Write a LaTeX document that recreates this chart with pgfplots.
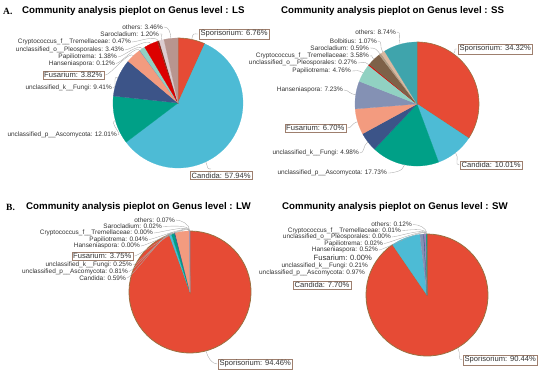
\documentclass[border=0pt]{standalone}
\usepackage{pgfplots}
\pgfplotsset{compat=1.18}
\usepackage{fontspec}
\setmainfont{Liberation Sans}
\newfontfamily\serifb{Liberation Serif}

\definecolor{cSpo}{HTML}{E64B35}
\definecolor{cCan}{HTML}{4DBBD5}
\definecolor{cAsc}{HTML}{00A087}
\definecolor{cFun}{HTML}{3C5488}
\definecolor{cFus}{HTML}{F39B7F}
\definecolor{cHan}{HTML}{8491B4}
\definecolor{cPap}{HTML}{91D1C2}
\definecolor{cPle}{HTML}{DC0000}
\definecolor{cCry}{HTML}{7E6148}
\definecolor{cSar}{HTML}{B09C85}
\definecolor{cBol}{HTML}{D9B8A0}
\definecolor{cOthLS}{HTML}{B8958F}
\definecolor{cSarLS}{HTML}{DCCCD0}
\definecolor{cCryLS}{HTML}{8A2A1A}
\definecolor{cOthSS}{HTML}{3FA4AC}
\definecolor{cOthW}{HTML}{9E7FC0}
\definecolor{redline}{HTML}{9A7040}
\definecolor{boxc}{HTML}{9E7F6E}
\definecolor{textc}{HTML}{333333}
\definecolor{leadc}{HTML}{A8A8A8}

\newcommand{\lbl}{\fontsize{6.45}{7}\selectfont}
\newcommand{\blbl}{\fontsize{7.6}{8.4}\selectfont}
\newcommand{\ttl}{\fontsize{9.7}{11}\selectfont\bfseries}

% #1 options, #2 cx, #3 cy, #4 r, #5 start %, #6 end %, #7 colour
\newcommand{\slice}[7][]{%
  \addplot[fill=#7, draw=#7, line width=0.2pt, #1, domain=#5:#6, samples=60, variable=\t, forget plot]
    ({#2+#4*sin(3.6*\t)}, {#3-#4*cos(3.6*\t)}) -- (axis cs:#2,#3) -- cycle;}
% leader from left label end: x y cx cy r mid%
\newcommand{\leadL}[6]{%
  \draw[leadc, line width=0.35pt] (axis cs:{#1+0.8},#2) .. controls (axis cs:{#1+6},#2) and (axis cs:{#3+(#5+7)*sin(3.6*#6)},{#4-(#5+7)*cos(3.6*#6)}) .. (axis cs:{#3+#5*sin(3.6*#6)},{#4-#5*cos(3.6*#6)});}
\newcommand{\leadR}[6]{%
  \draw[leadc, line width=0.35pt] (axis cs:{#1-0.8},#2) .. controls (axis cs:{#1-6},#2) and (axis cs:{#3+(#5+7)*sin(3.6*#6)},{#4-(#5+7)*cos(3.6*#6)}) .. (axis cs:{#3+#5*sin(3.6*#6)},{#4-#5*cos(3.6*#6)});}

\tikzset{
  sl/.style={anchor=east, font=\lbl, text=textc, inner sep=0pt},
  bx/.style={draw=boxc, line width=0.5pt, inner sep=1.4pt, fill=white, font=\blbl, text=textc},
  tt/.style={anchor=west, font=\ttl, text=black, inner sep=0pt},
  ab/.style={anchor=west, font={\fontsize{9.5}{10}\serifb\bfseries}, text=black, inner sep=0pt}
}

\begin{document}
\begin{tikzpicture}
\begin{axis}[width=550pt, height=373pt, scale only axis,
  xmin=0, xmax=550, ymin=0, ymax=373, y dir=reverse,
  hide axis, clip=false]
\path (axis cs:0,0) rectangle (axis cs:550,373);

% ---------------- LS ----------------
\slice[draw=redline, line width=0.6pt]{178}{103}{65}{0}{6.76}{cSpo}
\slice{178}{103}{65}{6.76}{64.70}{cCan}
\slice{178}{103}{65}{64.70}{76.71}{cAsc}
\slice{178}{103}{65}{76.71}{86.12}{cFun}
\slice{178}{103}{65}{86.12}{89.94}{cFus}
\slice{178}{103}{65}{89.94}{90.06}{cHan}
\slice{178}{103}{65}{90.06}{91.44}{cPap}
\slice{178}{103}{65}{91.44}{94.87}{cPle}
\slice{178}{103}{65}{94.87}{95.34}{cCryLS}
\slice{178}{103}{65}{95.34}{96.54}{cSarLS}
\slice{178}{103}{65}{96.54}{100}{cOthLS}

\node[ab] at (axis cs:3,11) {A.};
\node[tt] at (axis cs:22,11) {Community analysis pieplot on Genus level : LS};
\node[sl] at (axis cs:163,27) {others: 3.46\%};
\node[sl] at (axis cs:159,34) {Sarocladium: 1.20\%};
\node[sl] at (axis cs:131,42) {Cryptococcus\_f\_\_Tremellaceae: 0.47\%};
\node[sl] at (axis cs:124,50) {unclassified\_o\_\_Pleosporales: 3.43\%};
\node[sl] at (axis cs:117,57) {Papiliotrema: 1.38\%};
\node[sl] at (axis cs:115,63.5) {Hanseniaspora: 0.12\%};
\node[sl] at (axis cs:112,88) {unclassified\_k\_\_Fungi: 9.41\%};
\node[sl] at (axis cs:117,135) {unclassified\_p\_\_Ascomycota: 12.01\%};
\node[bx, anchor=east] at (axis cs:104,75) {Fusarium: 3.82\%};
\node[bx, anchor=west] at (axis cs:199,34) {Sporisorium: 6.76\%};
\node[bx, anchor=west] at (axis cs:190,175.5) {Candida: 57.94\%};
\leadL{163}{27}{178}{103}{65}{98.27}
\leadL{159}{34}{178}{103}{65}{95.94}
\leadL{131}{42}{178}{103}{65}{95.1}
\leadL{124}{50}{178}{103}{65}{93.16}
\leadL{117}{57}{178}{103}{65}{90.75}
\leadL{115}{63.5}{178}{103}{65}{90.0}
\leadL{104.5}{75}{178}{103}{65}{88.03}
\leadL{112}{88}{178}{103}{65}{81.4}
\leadL{117}{135}{178}{103}{65}{70.7}
\leadR{199}{34}{178}{103}{65}{3.38}
\leadR{212}{169}{178}{103}{65}{43}

% ---------------- SS ----------------
\slice[draw=redline, line width=0.6pt]{417}{104}{62}{0}{34.32}{cSpo}
\slice{417}{104}{62}{34.32}{44.33}{cCan}
\slice{417}{104}{62}{44.33}{62.06}{cAsc}
\slice{417}{104}{62}{62.06}{67.04}{cFun}
\slice{417}{104}{62}{67.04}{73.74}{cFus}
\slice{417}{104}{62}{73.74}{80.97}{cHan}
\slice{417}{104}{62}{80.97}{85.73}{cPap}
\slice{417}{104}{62}{85.73}{86.00}{cPle}
\slice{417}{104}{62}{86.00}{89.58}{cCry}
\slice{417}{104}{62}{89.58}{90.17}{cSar}
\slice{417}{104}{62}{90.17}{91.24}{cBol}
\slice{417}{104}{62}{91.24}{100}{cOthSS}

\node[tt] at (axis cs:281,11) {Community analysis pieplot on Genus level : SS};
\node[sl] at (axis cs:396,32) {others: 8.74\%};
\node[sl] at (axis cs:377,41) {Bolbitius: 1.07\%};
\node[sl] at (axis cs:369,48) {Sarocladium: 0.59\%};
\node[sl] at (axis cs:369,56) {Cryptococcus\_f\_\_Tremellaceae: 3.58\%};
\node[sl] at (axis cs:357,63) {unclassified\_o\_\_Pleosporales: 0.27\%};
\node[sl] at (axis cs:351,71) {Papiliotrema: 4.76\%};
\node[sl] at (axis cs:343,90) {Hanseniaspora: 7.23\%};
\node[sl] at (axis cs:359,153) {unclassified\_k\_\_Fungi: 4.98\%};
\node[sl] at (axis cs:387,173) {unclassified\_p\_\_Ascomycota: 17.73\%};
\node[bx, anchor=east] at (axis cs:346,128) {Fusarium: 6.70\%};
\node[bx, anchor=west] at (axis cs:458,49) {Sporisorium: 34.32\%};
\node[bx, anchor=west] at (axis cs:460,165) {Candida: 10.01\%};
\leadL{396}{32}{417}{104}{62}{95.6}
\leadL{377}{41}{417}{104}{62}{90.71}
\leadL{369}{48}{417}{104}{62}{89.88}
\leadL{369}{56}{417}{104}{62}{87.79}
\leadL{357}{63}{417}{104}{62}{85.87}
\leadL{351}{71}{417}{104}{62}{83.35}
\leadL{343}{90}{417}{104}{62}{77.36}
\leadL{346.5}{128}{417}{104}{62}{70.39}
\leadL{359}{153}{417}{104}{62}{64.55}
\leadL{387}{173}{417}{104}{62}{53.2}
\leadR{458}{49}{417}{104}{62}{10}
\leadR{460}{165}{417}{104}{62}{39.33}

% ---------------- LW ----------------
\slice[draw=redline, line width=0.8pt]{190}{292}{61}{0}{94.46}{cSpo}
\slice{190}{292}{61}{94.46}{95.05}{cCan}
\slice{190}{292}{61}{95.05}{95.86}{cAsc}
\slice{190}{292}{61}{95.86}{96.11}{cFun}
\slice{190}{292}{61}{96.11}{99.86}{cFus}
\slice{190}{292}{61}{99.86}{99.90}{cPap}
\slice{190}{292}{61}{99.90}{99.92}{cSar}
\slice{190}{292}{61}{99.92}{100}{cOthW}

\node[ab] at (axis cs:6,207) {B.};
\node[tt] at (axis cs:26,207) {Community analysis pieplot on Genus level : LW};
\node[sl] at (axis cs:175,220) {others: 0.07\%};
\node[sl] at (axis cs:162,226.5) {Sarocladium: 0.02\%};
\node[sl] at (axis cs:153,233) {Cryptococcus\_f\_\_Tremellaceae: 0.00\%};
\node[sl] at (axis cs:148,239.5) {Papiliotrema: 0.04\%};
\node[sl] at (axis cs:140,246) {Hanseniaspora: 0.00\%};
\node[sl] at (axis cs:132,265) {unclassified\_k\_\_Fungi: 0.25\%};
\node[sl] at (axis cs:128,271.5) {unclassified\_p\_\_Ascomycota: 0.81\%};
\node[sl] at (axis cs:126,278) {Candida: 0.59\%};
\node[bx, anchor=east] at (axis cs:133,256) {Fusarium: 3.75\%};
\node[bx, anchor=west] at (axis cs:218,364) {Sporisorium: 94.46\%};
\leadL{175}{220}{190}{292}{61}{99.96}
\leadL{162}{226.5}{190}{292}{61}{99.91}
\leadL{153}{233}{190}{292}{61}{99.90}
\leadL{148}{239.5}{190}{292}{61}{99.88}
\leadL{140}{246}{190}{292}{61}{99.86}
\leadL{133.5}{256}{190}{292}{61}{97.98}
\leadL{132}{265}{190}{292}{61}{95.98}
\leadL{128}{271.5}{190}{292}{61}{95.45}
\leadL{126}{278}{190}{292}{61}{94.75}
\leadR{218}{364}{190}{292}{61}{45.8}

% ---------------- SW ----------------
\slice[draw=redline, line width=0.8pt]{427}{295}{61}{0}{90.44}{cSpo}
\slice{427}{295}{61}{90.44}{98.14}{cCan}
\slice{427}{295}{61}{98.14}{99.11}{cHan}
\slice{427}{295}{61}{99.11}{99.32}{cFun}
\slice{427}{295}{61}{99.32}{99.84}{cOthW}
\slice{427}{295}{61}{99.84}{99.86}{cPap}
\slice{427}{295}{61}{99.86}{99.87}{cCry}
\slice{427}{295}{61}{99.87}{100}{cAsc}

\node[tt] at (axis cs:282,207) {Community analysis pieplot on Genus level : SW};
\node[sl] at (axis cs:412,224.5) {others: 0.12\%};
\node[sl] at (axis cs:401,230.5) {Cryptococcus\_f\_\_Tremellaceae: 0.01\%};
\node[sl] at (axis cs:391,237) {unclassified\_o\_\_Pleosporales: 0.00\%};
\node[sl] at (axis cs:383,243.5) {Papiliotrema: 0.02\%};
\node[sl] at (axis cs:378,250) {Hanseniaspora: 0.52\%};
\node[sl, font=\blbl] at (axis cs:372,258) {Fusarium: 0.00\%};
\node[sl] at (axis cs:368,266) {unclassified\_k\_\_Fungi: 0.21\%};
\node[sl] at (axis cs:365,273) {unclassified\_p\_\_Ascomycota: 0.97\%};
\node[bx, anchor=west] at (axis cs:293,285) {Candida: 7.70\%};
\node[bx, anchor=west] at (axis cs:463,360) {Sporisorium: 90.44\%};
\leadL{412}{224.5}{427}{295}{61}{99.93}
\leadL{401}{230.5}{427}{295}{61}{99.87}
\leadL{391}{237}{427}{295}{61}{99.86}
\leadL{383}{243.5}{427}{295}{61}{99.85}
\leadL{378}{250}{427}{295}{61}{99.58}
\leadR{463}{360}{427}{295}{61}{41.6}
\end{axis}
\end{tikzpicture}
\end{document}
